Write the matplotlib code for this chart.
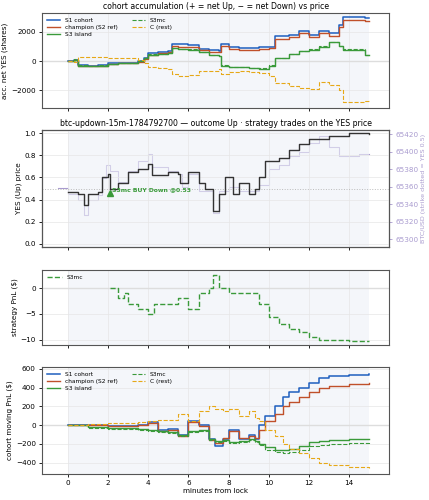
import matplotlib
matplotlib.use("Agg")
import matplotlib.pyplot as plt
import numpy as np

# panel 1: accumulated net YES shares
acc_t = [0, 0.3, 0.5, 1.0, 1.5, 2.0, 2.5, 3.0, 3.5, 3.8, 4.0, 4.5, 5.0, 5.2, 5.5, 6.0, 6.5, 7.0, 7.5, 7.6, 8.0, 8.5, 9.0, 9.5, 10.0, 10.3, 11.0, 11.5, 12.0, 12.5, 13.0, 13.5, 13.7, 14.0, 14.7, 14.8, 15.0]
acc_s1 = [0, 100, -250, -300, -250, -150, -120, -100, 0, 200, 550, 650, 700, 1200, 1150, 1100, 850, 750, 700, 1200, 950, 900, 900, 950, 1000, 1700, 1800, 2100, 1800, 2100, 1900, 2500, 3050, 3050, 3050, 2950, 2950]
acc_ch = [0, 80, -300, -350, -300, -200, -150, -120, -50, 150, 450, 550, 600, 1050, 1000, 950, 750, 650, 600, 1050, 850, 800, 800, 850, 900, 1550, 1650, 1950, 1650, 1950, 1750, 2350, 2850, 2850, 2850, 2750, 2750]
acc_s3 = [0, 100, -300, -350, -300, -200, -150, -100, 0, 200, 450, 500, 550, 900, 850, 800, 600, 400, 350, -300, -400, -400, -450, -500, -300, 200, 500, 700, 800, 1000, 1300, 1050, 800, 800, 800, 400, 400]
acc_mc = [0, 120, -280, -330, -280, -180, -130, -90, 20, 220, 470, 520, 570, 920, 870, 820, 620, 420, 370, -280, -380, -380, -430, -480, -280, 220, 520, 720, 820, 1020, 1320, 1070, 820, 820, 820, 420, 420]
acc_c = [0, -50, 300, 300, 280, 250, 200, 200, 100, -100, -400, -450, -500, -900, -1000, -950, -700, -700, -500, -850, -750, -700, -750, -800, -1000, -1500, -1700, -1800, -1900, -1400, -1600, -2000, -2800, -2800, -2800, -2700, -2700]

# panel 2: YES price and BTC
yes_t = [0, 0.5, 0.8, 1.0, 1.5, 1.7, 2.0, 2.1, 2.5, 3.0, 3.5, 4.0, 4.2, 5.0, 5.5, 5.6, 6.0, 6.5, 6.8, 7.2, 7.5, 7.8, 8.2, 8.5, 9.0, 9.3, 9.5, 9.8, 10.5, 11.0, 11.5, 12.0, 13.0, 14.0, 15.0]
yes_p = [0.47, 0.45, 0.35, 0.45, 0.47, 0.60, 0.63, 0.50, 0.55, 0.65, 0.68, 0.72, 0.62, 0.65, 0.63, 0.55, 0.65, 0.55, 0.50, 0.30, 0.45, 0.60, 0.45, 0.55, 0.45, 0.50, 0.60, 0.75, 0.78, 0.85, 0.90, 0.95, 0.98, 1.00, 0.99]
btc_t = [-0.5, 0, 0.5, 0.8, 1.0, 1.5, 1.7, 1.9, 2.1, 2.5, 3.0, 3.5, 4.0, 4.2, 5.0, 5.5, 5.7, 6.0, 6.5, 7.2, 7.5, 8.0, 8.5, 9.0, 9.5, 10.0, 10.5, 11.0, 11.5, 12.0, 12.5, 13.0, 13.5, 14.0, 14.5, 15.0]
btc_p = [65358, 65352, 65345, 65328, 65345, 65350, 65370, 65385, 65378, 65365, 65378, 65390, 65398, 65383, 65378, 65375, 65360, 65375, 65355, 65330, 65355, 65360, 65355, 65355, 65362, 65380, 65385, 65395, 65400, 65410, 65418, 65405, 65395, 65395, 65398, 65398]
trade_t, trade_p = 2.1, 0.46

# panel 3: strategy PnL
pnl_t = [2.1, 2.5, 2.8, 3.0, 3.5, 4.0, 4.3, 5.0, 5.5, 6.0, 6.5, 7.0, 7.2, 7.5, 8.0, 8.5, 9.0, 9.5, 10.0, 10.5, 11.0, 11.5, 12.0, 12.5, 13.0, 14.0, 15.0]
pnl_v = [0, -2, -1, -3, -4, -5, -3, -3, -2, -4, -1, 0, 2.5, 0, -1, -1, -1, -3, -5.5, -7, -8, -8.5, -9.5, -10, -10, -10.3, -10.2]

# panel 4: cohort moving PnL
mv_t = [0, 1, 2, 3.5, 4, 4.5, 5, 5.5, 6, 6.5, 7, 7.3, 7.7, 8, 8.5, 9, 9.3, 9.5, 9.8, 10.3, 10.7, 11, 11.5, 12, 12.5, 13, 14, 15]
mv_s1 = [0, 0, -10, 0, 30, -50, -40, -100, 50, 0, -150, -220, -150, -50, -150, -100, -150, 0, 100, 200, 300, 350, 400, 450, 500, 520, 540, 550]
mv_ch = [0, 0, -10, 0, 20, -60, -50, -110, 30, -10, -160, -190, -140, -60, -140, -110, -140, -50, 50, 120, 200, 250, 300, 350, 400, 420, 440, 450]
mv_s3 = [0, -20, -30, -40, -50, -60, -70, -100, -60, -50, -150, -170, -160, -180, -170, -150, -170, -200, -230, -260, -260, -250, -220, -180, -170, -160, -150, -150]
mv_mc = [0, -25, -40, -50, -60, -70, -80, -120, -70, -60, -160, -180, -170, -190, -180, -160, -180, -210, -260, -290, -300, -290, -260, -220, -210, -200, -195, -200]
mv_c = [0, 10, 20, 30, 50, 60, 60, 120, 50, 150, 200, 170, 150, 170, 100, 150, 80, 50, -50, -120, -200, -250, -300, -350, -400, -420, -450, -460]

BLUE, RED, GREEN, GOLD = "#1f5fbf", "#c0502a", "#3a9a3a", "#e6a817"
PURPLE = "#a99bcf"

FS = 5.2
plt.rcParams.update({"font.size": FS, "axes.linewidth": 0.8})
fig = plt.figure(figsize=(4.29, 5.0), dpi=100)
L, W = 0.098, 0.809
ax1 = fig.add_axes([L, 0.784, W, 0.190])
ax2 = fig.add_axes([L, 0.506, W, 0.234], sharex=ax1)
ax3 = fig.add_axes([L, 0.310, W, 0.150], sharex=ax1)
ax4 = fig.add_axes([L, 0.052, W, 0.214], sharex=ax1)

for ax in (ax1, ax2, ax3, ax4):
    ax.axvspan(0, 15, color="#eef1f8", alpha=0.6, zorder=0, lw=0)
    ax.grid(True, color="#e6e6e6", lw=0.5)
    ax.tick_params(labelsize=FS, length=2.5, width=0.6, pad=2)
    for s in ax.spines.values():
        s.set_color("#555555")
ax1.set_xlim(-1.3, 16.0)

ax1.axhline(0, color="#dddddd", lw=1)
ax1.step(acc_t, acc_s1, where="post", color=BLUE, lw=1.1, label="S1 cohort")
ax1.step(acc_t, acc_ch, where="post", color=RED, lw=1.0, label="champion (S2 ref)")
ax1.step(acc_t, acc_s3, where="post", color=GREEN, lw=1.0, label="S3 island")
ax1.step(acc_t, acc_mc, where="post", color=GREEN, lw=0.8, ls="--", label="S3mc")
ax1.step(acc_t, acc_c, where="post", color=GOLD, lw=0.8, ls="--", label="C (rest)")
ax1.set_ylim(-3200, 3300)
ax1.set_yticks([-2000, 0, 2000])
ax1.set_ylabel("acc. net YES (shares)", fontsize=FS, labelpad=2)
ax1.set_title("cohort accumulation (+ = net Up, − = net Down) vs price", fontsize=5.6, pad=3)
ax1.legend(ncol=2, fontsize=4.2, frameon=False, loc="upper left", handlelength=2.2, columnspacing=2.5, labelspacing=0.3)
plt.setp(ax1.get_xticklabels(), visible=False)

ax2b = ax2.twinx()
ax2b.plot(btc_t, btc_p, color=PURPLE, lw=0.8, drawstyle="steps-post")
ax2b.set_ylim(65291, 65425)
ax2b.set_yticks([65300, 65320, 65340, 65360, 65380, 65400, 65420])
ax2b.tick_params(colors=PURPLE, labelsize=FS, length=2.5, width=0.6, pad=2)
ax2b.set_ylabel("BTC/USD (strike dotted = YES 0.5)", color=PURPLE, fontsize=4.6, labelpad=2)
ax2.set_zorder(ax2b.get_zorder() + 1)
ax2.patch.set_visible(False)
ax2.axhline(0.5, color="#bbbbbb", lw=0.7, ls=":")
ax2.step(yes_t, yes_p, where="post", color="#333333", lw=1.0)
ax2.plot([trade_t], [trade_p], marker="^", color=GREEN, ms=5, ls="none")
ax2.text(trade_t + 0.1, trade_p + 0.02, "S3mc BUY Down @0.53", color=GREEN, fontsize=4.4, fontweight="bold")
ax2.set_ylim(-0.03, 1.03)
ax2.set_yticks([0, 0.2, 0.4, 0.6, 0.8, 1.0])
ax2.set_ylabel("YES (Up) price", fontsize=FS, labelpad=2)
ax2.set_title("btc-updown-15m-1784792700 — outcome Up · strategy trades on the YES price", fontsize=5.6, pad=3)
plt.setp(ax2.get_xticklabels(), visible=False)

ax3.axhline(0, color="#dddddd", lw=1)
ax3.step(pnl_t, pnl_v, where="post", color=GREEN, lw=1.0, ls="--", label="S3mc")
ax3.set_ylim(-11, 3.5)
ax3.set_yticks([-10, -5, 0])
ax3.set_ylabel("strategy PnL ($)", fontsize=FS, labelpad=2)
ax3.legend(fontsize=4.2, frameon=False, loc="upper left", handlelength=2.5)
plt.setp(ax3.get_xticklabels(), visible=False)

ax4.axhline(0, color="#dddddd", lw=1)
ax4.step(mv_t, mv_s1, where="post", color=BLUE, lw=1.1, label="S1 cohort")
ax4.step(mv_t, mv_ch, where="post", color=RED, lw=1.0, label="champion (S2 ref)")
ax4.step(mv_t, mv_s3, where="post", color=GREEN, lw=1.0, label="S3 island")
ax4.step(mv_t, mv_mc, where="post", color=GREEN, lw=0.8, ls="--", label="S3mc")
ax4.step(mv_t, mv_c, where="post", color=GOLD, lw=0.8, ls="--", label="C (rest)")
ax4.set_ylim(-520, 620)
ax4.set_yticks([-400, -200, 0, 200, 400, 600])
ax4.set_xticks([0, 2, 4, 6, 8, 10, 12, 14])
ax4.set_ylabel("cohort moving PnL ($)", fontsize=FS, labelpad=2)
ax4.set_xlabel("minutes from lock", fontsize=FS, labelpad=1)
ax4.legend(ncol=2, fontsize=4.2, frameon=False, loc="upper left", handlelength=2.2, columnspacing=2.5, labelspacing=0.3)

fig.savefig("out.png", dpi=100)
